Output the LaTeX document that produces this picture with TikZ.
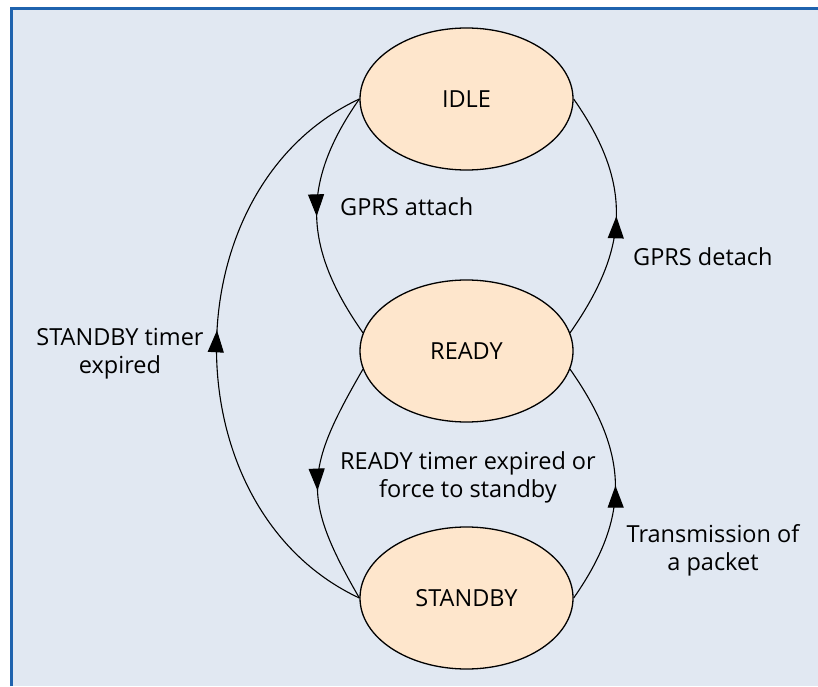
\documentclass[tikz,border=0pt]{standalone}
\usepackage{fontspec}
\setmainfont{Open Sans}
\usetikzlibrary{shapes.geometric,arrows.meta,decorations.markings}

\definecolor{panel}{HTML}{E1E8F2}
\definecolor{frameblue}{HTML}{1F63AE}
\definecolor{statefill}{HTML}{FEE6CC}

\begin{document}
\begin{tikzpicture}[x=1pt,y=1pt,
  labelfont/.style={font=\fontsize{23.5}{28}\selectfont},
  state/.style={ellipse, draw=black, line width=1.3pt, fill=statefill,
    minimum width=213pt, minimum height=142pt, inner sep=0pt, labelfont},
  lbl/.style={labelfont, align=center, inner sep=0pt},
  trans/.style={draw=black, line width=1.1pt, postaction={decorate},
    decoration={markings, mark=at position #1 with
      {\arrow{Triangle[length=22pt,width=16pt]}}}},
]
% page and panel
\useasboundingbox (0,0) rectangle (818,686);
\fill[white] (0,0) rectangle (818,686);
\fill[panel] (11.5,0) rectangle (818,677.5);
\draw[frameblue, line width=3.5pt] (11.5,0) -- (11.5,677.5) -- (818,677.5);

% states
\node[state] (idle)    at (466.5,587) {IDLE};
\node[state] (ready)   at (466.5,335) {READY};
\node[state] (standby) at (466.5,88)  {STANDBY};

% transitions
\draw[trans=0.5] (idle.west) to[out=235,in=125,looseness=1.13] (ready.170);
\draw[trans=0.5] (ready.10) to[out=55,in=305,looseness=1.13] (idle.east);
\draw[trans=0.53] (standby.west) to[out=155,in=205,looseness=1.08] (idle.west);
\draw[trans=0.53] (ready.190) to[out=240,in=120,looseness=1.3] (standby.west);
\draw[trans=0.49] (standby.east) to[out=55,in=305,looseness=1.13] (ready.-10);

% transition labels
\node[lbl, anchor=west] (lattach) at (340,479) {GPRS attach};
\node[lbl, anchor=west] (ldetach) at (633,429) {GPRS detach};
\node[lbl] (ltimer) at (120,332.5) {STANDBY timer\\expired};
\node[lbl] (lready) at (468,209) {READY timer expired or\\force to standby};
\node[lbl] (ltx) at (713,136) {Transmission of\\a packet};
\end{tikzpicture}
\end{document}
